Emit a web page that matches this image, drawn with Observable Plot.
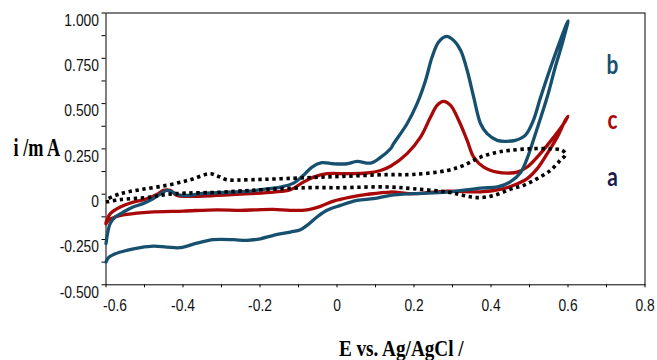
<!DOCTYPE html>
<html><head><meta charset="utf-8">
<script src="https://cdn.jsdelivr.net/npm/d3@7"></script>
<script src="https://cdn.jsdelivr.net/npm/@observablehq/plot@0.6"></script>
<style>body{margin:0;background:#fff}#chart{width:657px;height:360px;overflow:hidden}</style>
</head><body><div id="chart"></div>
<script>
// ---- data (E in V vs Ag/AgCl, i in mA) ----
const bE = [-0.600,-0.589,-0.576,-0.555,-0.530,-0.504,-0.478,-0.455,-0.442,-0.429,-0.412,-0.390,-0.354,-0.312,-0.225,-0.199,-0.147,-0.113,-0.087,-0.065,-0.039,-0.009,0.026,0.052,0.087,0.113,0.139,0.147,0.182,0.208,0.230,0.247,0.264,0.284,0.303,0.321,0.338,0.355,0.373,0.390,0.416,0.437,0.463,0.489,0.510,0.528,0.554,0.580,0.600,
  0.585,0.567,0.546,0.524,0.507,0.494,0.477,0.450,0.417,0.373,0.286,0.199,0.139,0.095,0.052,0.009,-0.026,-0.052,-0.078,-0.095,-0.121,-0.165,-0.199,-0.234,-0.269,-0.321,-0.364,-0.407,-0.442,-0.477,-0.511,-0.546,-0.576,-0.594,-0.600];
const bI = [-0.272,-0.161,-0.126,-0.099,-0.071,-0.052,-0.025,0.006,0.021,0.012,-0.003,-0.007,0.003,0.008,0.017,0.025,0.039,0.061,0.104,0.150,0.174,0.168,0.168,0.181,0.172,0.203,0.251,0.279,0.389,0.500,0.628,0.757,0.840,0.871,0.849,0.794,0.684,0.536,0.389,0.334,0.297,0.292,0.297,0.325,0.407,0.529,0.695,0.849,0.957,
  0.831,0.702,0.536,0.389,0.279,0.198,0.120,0.068,0.040,0.034,0.012,0.003,-0.007,-0.025,-0.034,-0.062,-0.089,-0.126,-0.172,-0.196,-0.209,-0.227,-0.246,-0.255,-0.251,-0.251,-0.270,-0.295,-0.292,-0.287,-0.295,-0.310,-0.329,-0.351,-0.375];

const cE = [-0.600,-0.589,-0.563,-0.529,-0.494,-0.464,-0.451,-0.433,-0.416,-0.390,-0.312,-0.225,-0.165,-0.121,-0.087,-0.061,-0.026,0.026,0.078,0.113,0.139,0.182,0.217,0.243,0.260,0.276,0.295,0.316,0.338,0.355,0.381,0.416,0.450,0.468,0.494,0.528,0.563,0.589,0.600,
  0.593,0.572,0.546,0.520,0.494,0.459,0.424,0.373,0.286,0.199,0.139,0.078,0.035,-0.009,-0.043,-0.078,-0.121,-0.165,-0.208,-0.251,-0.312,-0.399,-0.485,-0.546,-0.576,-0.594,-0.600];
const cI = [-0.156,-0.108,-0.071,-0.044,-0.025,0.003,0.021,0.021,-0.007,-0.012,-0.007,0.003,0.012,0.025,0.067,0.094,0.113,0.113,0.117,0.131,0.154,0.224,0.315,0.426,0.490,0.512,0.490,0.408,0.297,0.205,0.150,0.122,0.117,0.122,0.150,0.224,0.315,0.389,0.430,
  0.408,0.315,0.224,0.141,0.086,0.049,0.027,0.013,0.017,0.003,0.012,-0.001,-0.016,-0.038,-0.067,-0.086,-0.089,-0.084,-0.086,-0.089,-0.086,-0.093,-0.099,-0.112,-0.126,-0.145,-0.163];

const aE = [-0.600,-0.563,-0.485,-0.442,-0.390,-0.312,-0.225,-0.078,0.009,0.130,0.199,0.286,0.329,0.364,0.407,0.450,0.485,0.520,0.554,0.580,0.594,
  0.585,0.554,0.502,0.450,0.416,0.373,0.329,0.286,0.199,0.130,0.009,-0.078,-0.225,-0.286,-0.308,-0.329,-0.381,-0.442,-0.511,-0.563,-0.600];
const aI = [-0.043,-0.030,-0.016,-0.001,0.006,0.010,0.021,0.036,0.036,0.040,0.030,0.012,-0.007,-0.019,-0.007,0.027,0.049,0.086,0.131,0.187,0.220,
  0.242,0.251,0.251,0.242,0.232,0.205,0.159,0.131,0.109,0.108,0.098,0.091,0.080,0.080,0.098,0.113,0.080,0.049,0.025,0.003,-0.030];

const seriesNames = ["b", "c", "a"];
const yTickValues = [1.0, 0.75, 0.5, 0.25, 0, -0.25, -0.5];
const yTickLabels = ["1.000", "0.750", "0.500", "0.250", "0", "-0.250", "-0.500"];
const yMinorValues = [0.875, 0.625, 0.375, 0.125, -0.125, -0.375];
const xTickValues = [-0.6, -0.4, -0.2, 0, 0.2, 0.4, 0.6, 0.8];
const xTickLabels = ["-0.6", "-0.4", "-0.2", "0", "0.2", "0.4", "0.6", "0.8"];
const xMinorValues = [-0.5, -0.3, -0.1, 0.1, 0.3, 0.5, 0.7];
const xTitle = "E vs. Ag/AgCl /";
const yTitle = "i /m A";

// ---- build table ----
const toRows = (name, E, I) => E.map((e, k) => ({series: name, E: e, i: I[k]}));
const rowsB = toRows("b", bE, bI);
const rowsC = toRows("c", cE, cI);
const rowsA = toRows("a", aE, aI);

const colors = {b: "#17506f", c: "#a80808", a: "#000000"};
const legendColors = {b: "#17506f", c: "#a80808", a: "#1b1a4c"};
const serif = "'Liberation Serif','Times New Roman',serif";
const fmtY = d => yTickLabels[yTickValues.indexOf(d)];
const fmtX = d => xTickLabels[xTickValues.indexOf(d)];

const chart = Plot.plot({
  width: 657, height: 360,
  marginLeft: 105.5, marginRight: 12.5, marginTop: 12.5, marginBottom: 75.7,
  x: {domain: [-0.6, 0.8], label: null},
  y: {domain: [-0.5, 1.0], label: null},
  style: {fontFamily: "'Liberation Sans', Arial, sans-serif", fontSize: "16.5px", color: "#000", background: "#fff", overflow: "visible"},
  marks: [
    Plot.frame({stroke: "#000", strokeWidth: 1}),
    Plot.axisY(yTickValues.concat(yMinorValues), {tickSize: 4, tickFormat: () => "", label: null}),
    Plot.axisY(yTickValues, {tickSize: 0, tickPadding: 7, tickFormat: fmtY, dy: 7.5, label: null, fill: "#111"}),
    Plot.axisX(xTickValues.concat(xMinorValues), {tickSize: 3, tickFormat: () => "", label: null}),
    Plot.axisX(xTickValues.slice(1), {tickSize: 0, tickPadding: 14, tickFormat: fmtX, label: null, fill: "#111"}),
    Plot.axisX(xTickValues.slice(0, 1), {tickSize: 0, tickPadding: 14, dx: 9, tickFormat: fmtX, label: null, fill: "#111"}),
    Plot.line(rowsC, {x: "E", y: "i", stroke: colors.c, strokeWidth: 3.3, curve: "catmull-rom"}),
    Plot.line(rowsB, {x: "E", y: "i", stroke: colors.b, strokeWidth: 3.3, curve: "catmull-rom"}),
    Plot.line(rowsA, {x: "E", y: "i", stroke: colors.a, strokeWidth: 3.6, strokeDasharray: "3.4,3.6", strokeLinecap: "butt", curve: "catmull-rom"}),
    Plot.text([seriesNames[0]], {text: d => d, frameAnchor: "top-right", dx: -32.5, dy: 60.8, lineAnchor: "bottom", textAnchor: "middle", fill: legendColors.b, fontFamily: "Lato, 'Open Sans', sans-serif", fontWeight: "bold", fontSize: 26}),
    Plot.text([seriesNames[1]], {text: d => d, frameAnchor: "top-right", dx: -32.5, dy: 115.8, lineAnchor: "bottom", textAnchor: "middle", fill: legendColors.c, fontFamily: "Lato, 'Open Sans', sans-serif", fontWeight: "bold", fontSize: 26}),
    Plot.text([seriesNames[2]], {text: d => d, frameAnchor: "top-right", dx: -32.5, dy: 172.5, lineAnchor: "bottom", textAnchor: "middle", fill: legendColors.a, fontFamily: "Lato, 'Open Sans', sans-serif", fontWeight: "bold", fontSize: 26}),
    Plot.text([yTitle], {text: d => d, frameAnchor: "top-left", dx: -92.5, dy: 142.5, lineAnchor: "bottom", textAnchor: "start", fontFamily: serif, fontWeight: "bold", fontSize: 25, fill: "#000"}),
    Plot.text([xTitle], {text: d => d, frameAnchor: "bottom", dx: 25.8, dy: 70.7, lineAnchor: "bottom", textAnchor: "middle", fontFamily: serif, fontWeight: "bold", fontSize: 24, fill: "#000"})
  ]
});
document.getElementById("chart").appendChild(chart);

// horizontally condense text, as in the reference
function squeeze(t, sx) {
  const tr = t.getAttribute("transform");
  if (tr) t.setAttribute("transform", tr + ` scale(${sx},1)`);
  else {
    const x = +t.getAttribute("x") || 0, y = +t.getAttribute("y") || 0;
    t.removeAttribute("x"); t.removeAttribute("y");
    t.setAttribute("transform", `translate(${x},${y}) scale(${sx},1)`);
  }
}
chart.querySelectorAll("text").forEach(t => {
  const s = t.textContent;
  if (s === yTitle) squeeze(t, 0.73);
  else if (s === xTitle) squeeze(t, 0.8);
  else if (seriesNames.includes(s)) squeeze(t, 0.8);
  else if (yTickLabels.includes(s) || xTickLabels.includes(s)) squeeze(t, 0.84);
});
</script>
</body></html>
